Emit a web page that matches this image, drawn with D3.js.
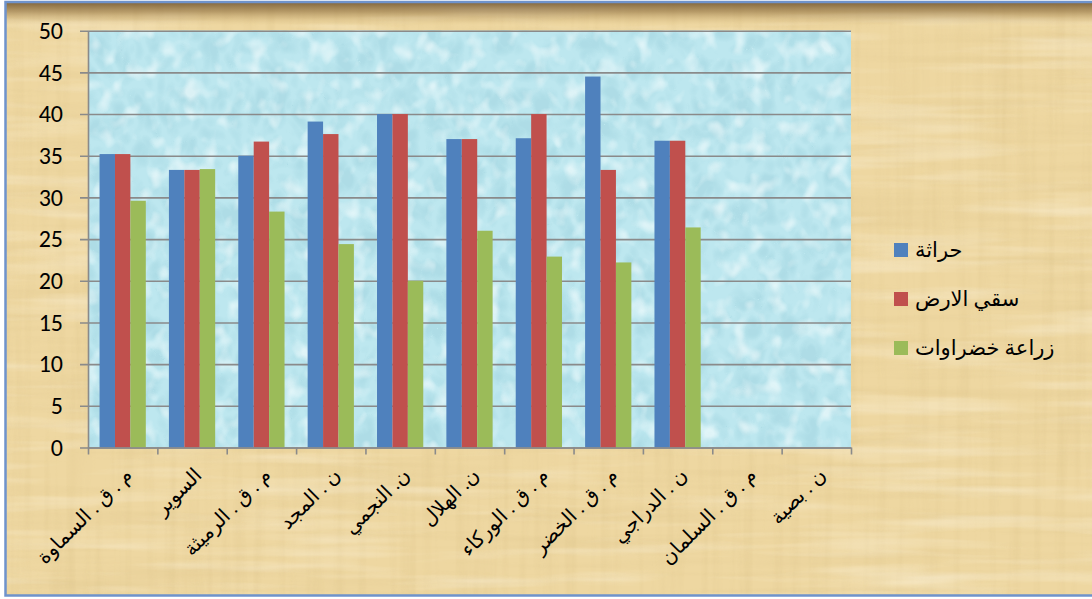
<!DOCTYPE html>
<html>
<head>
<meta charset="utf-8">
<script src="https://cdn.jsdelivr.net/npm/d3@7/dist/d3.min.js"></script>
<style>
  html, body { margin: 0; padding: 0; background: #ffffff; }
  svg { display: block; }
</style>
</head>
<body>
<svg id="chart" width="1092" height="599"></svg>
<script>
// Villages / districts along the x axis
const categories = [
  "م . ق . السماوة",
  "السوير",
  "م . ق . الرميثة",
  "ن . المجد",
  "ن. النجمي",
  "ن. الهلال",
  "م . ق . الوركاء",
  "م . ق . الخضر",
  "ن . الدراجي",
  "م . ق . السلمان",
  "ن . بصية"
];

// Series names (legend order)
const seriesNames = ["حراثة", "سقي الارض", "زراعة خضراوات"];

// Values per series, one per category (null = no data)
const tillage    = [35.2, 33.3, 35.0, 39.1, 40.0, 37.0, 37.1, 44.5, 36.8, null, null];
const irrigation = [35.2, 33.3, 36.7, 37.6, 40.0, 37.0, 40.0, 33.3, 36.8, null, null];
const vegetables = [29.6, 33.4, 28.3, 24.4, 20.0, 26.0, 22.9, 22.2, 26.4, null, null];

// Y axis ticks
const yTicks = [0, 5, 10, 15, 20, 25, 30, 35, 40, 45, 50];

const seriesValues = [tillage, irrigation, vegetables];
const colors = ["#4f81bd", "#c0504d", "#9bbb59"];

const svg = d3.select("#chart");
const W = 1092, H = 599;

const plot = { left: 88, right: 851, top: 30.7, bottom: 447.5 };

const defs = svg.append("defs");

// Papyrus fibres: horizontal and vertical streak noise
function fibreFilter(id, freq, seed, rgb, a, b) {
  const f = defs.append("filter").attr("id", id)
    .attr("x", 0).attr("y", 0).attr("width", 1).attr("height", 1)
    .attr("filterUnits", "objectBoundingBox");
  f.append("feTurbulence").attr("type", "fractalNoise")
    .attr("baseFrequency", freq).attr("numOctaves", 3).attr("seed", seed);
  f.append("feColorMatrix").attr("type", "matrix").attr("values",
    `0 0 0 0 ${rgb[0]}  0 0 0 0 ${rgb[1]}  0 0 0 0 ${rgb[2]}  ${a} 0 0 0 ${b}`);
}
fibreFilter("fibH", "0.004 0.09", 4, [0.66, 0.50, 0.22], 1.6, -0.72);
fibreFilter("fibV", "0.09 0.004", 9, [0.66, 0.50, 0.22], 1.6, -0.72);
fibreFilter("fibL", "0.005 0.07", 17, [1.0, 0.95, 0.82], 1.8, -0.85);

// Water drops texture for the plot area
const wf = defs.append("filter").attr("id", "water")
  .attr("x", 0).attr("y", 0).attr("width", 1).attr("height", 1);
wf.append("feTurbulence").attr("type", "turbulence")
  .attr("baseFrequency", "0.045 0.035").attr("numOctaves", 2).attr("seed", 5);
wf.append("feColorMatrix").attr("type", "matrix").attr("values",
  "0 0 0 0 0.36  0 0 0 0 0.66  0 0 0 0 0.74  2.4 0 0 0 -0.3");
const wf2 = defs.append("filter").attr("id", "waterHi")
  .attr("x", 0).attr("y", 0).attr("width", 1).attr("height", 1);
wf2.append("feTurbulence").attr("type", "fractalNoise")
  .attr("baseFrequency", "0.06 0.05").attr("numOctaves", 2).attr("seed", 11);
wf2.append("feColorMatrix").attr("type", "matrix").attr("values",
  "0 0 0 0 0.95  0 0 0 0 1  0 0 0 0 1  3 0 0 0 -1.5");

// Darker band along the top edge
const topGrad = defs.append("linearGradient").attr("id", "topBand")
  .attr("x1", 0).attr("y1", 0).attr("x2", 0).attr("y2", 1);
topGrad.append("stop").attr("offset", "0%").attr("stop-color", "#6b4f2a").attr("stop-opacity", 0.9);
topGrad.append("stop").attr("offset", "45%").attr("stop-color", "#8a6a3a").attr("stop-opacity", 0.55);
topGrad.append("stop").attr("offset", "100%").attr("stop-color", "#c9a86a").attr("stop-opacity", 0);

// Chart background
const bg = svg.append("g");
bg.append("rect").attr("x", 5).attr("y", 1).attr("width", W - 5).attr("height", 595)
  .attr("fill", "#eed7a1");
bg.append("rect").attr("x", 5).attr("y", 1).attr("width", W - 5).attr("height", 595)
  .attr("filter", "url(#fibH)").attr("opacity", 0.3);
bg.append("rect").attr("x", 5).attr("y", 1).attr("width", W - 5).attr("height", 595)
  .attr("filter", "url(#fibV)").attr("opacity", 0.3);
bg.append("rect").attr("x", 5).attr("y", 1).attr("width", W - 5).attr("height", 595)
  .attr("filter", "url(#fibL)").attr("opacity", 0.5);
bg.append("rect").attr("x", 5).attr("y", 1).attr("width", W - 5).attr("height", 24)
  .attr("fill", "url(#topBand)");
// Outer border
bg.append("path")
  .attr("d", `M${W + 2},2 H5.5 V595.5 H${W + 2}`)
  .attr("fill", "none").attr("stroke", "#6f93cc").attr("stroke-width", 2.5);

// Scales
const y = d3.scaleLinear().domain([0, 50]).range([plot.bottom, plot.top]);
const x0 = d3.scaleBand().domain(categories).range([plot.left, plot.right])
  .paddingInner(0).paddingOuter(0);
const x1 = d3.scaleBand().domain(d3.range(seriesNames.length))
  .range([0, x0.bandwidth()]).paddingInner(0).paddingOuter(0.75);
const xEdge = d3.scaleLinear().domain([0, categories.length]).range([plot.left, plot.right]);

// Plot area
const pa = svg.append("g");
pa.append("rect").attr("x", plot.left).attr("y", plot.top)
  .attr("width", plot.right - plot.left).attr("height", plot.bottom - plot.top)
  .attr("fill", "#bde7ef");
pa.append("rect").attr("x", plot.left).attr("y", plot.top)
  .attr("width", plot.right - plot.left).attr("height", plot.bottom - plot.top)
  .attr("filter", "url(#water)").attr("opacity", 0.55);
pa.append("rect").attr("x", plot.left).attr("y", plot.top)
  .attr("width", plot.right - plot.left).attr("height", plot.bottom - plot.top)
  .attr("filter", "url(#waterHi)").attr("opacity", 0.6);

// Gridlines (extend 8px left of the axis as outer tick marks)
svg.append("g")
  .attr("transform", `translate(${plot.right},0)`)
  .call(d3.axisLeft(y).tickValues(yTicks).tickSize(plot.right - plot.left + 8).tickFormat(""))
  .call(g => g.select(".domain").remove())
  .call(g => g.selectAll("line").attr("stroke", "#8a8a8a").attr("stroke-width", 1.6));

// Bars
const groups = svg.append("g").selectAll("g")
  .data(categories)
  .join("g")
  .attr("transform", d => `translate(${x0(d)},0)`);

groups.selectAll("rect")
  .data((d, i) => seriesValues.map((vals, s) => ({ s, v: vals[i] })).filter(e => e.v != null))
  .join("rect")
  .attr("x", e => x1(e.s))
  .attr("y", e => y(e.v))
  .attr("width", x1.bandwidth())
  .attr("height", e => y(0) - y(e.v))
  .attr("fill", e => colors[e.s]);

// Y axis line + labels
svg.append("g")
  .attr("transform", `translate(${plot.left},0)`)
  .call(d3.axisLeft(y).tickValues(yTicks).tickSize(0).tickPadding(25))
  .call(g => g.select(".domain").attr("stroke", "#8a8a8a").attr("stroke-width", 1.6))
  .call(g => g.selectAll("text")
    .attr("font-family", "Carlito, 'Liberation Sans', Arial, sans-serif")
    .attr("font-size", 24).attr("fill", "#000"));

// X axis line with tick marks at category boundaries
svg.append("g")
  .attr("transform", `translate(0,${plot.bottom})`)
  .call(d3.axisBottom(xEdge).tickValues(d3.range(0, categories.length + 1))
    .tickSize(7).tickSizeOuter(0).tickFormat(""))
  .call(g => g.select(".domain").attr("stroke", "#8a8a8a").attr("stroke-width", 1.6))
  .call(g => g.selectAll("line").attr("stroke", "#8a8a8a").attr("stroke-width", 1.6));

// Rotated category labels
svg.append("g").selectAll("text")
  .data(categories)
  .join("text")
  .attr("transform", d => `translate(${x0(d) + x0.bandwidth() / 2 + 1},${plot.bottom + 19}) rotate(-45)`)
  .attr("text-anchor", "end")
  .attr("dy", "0.7em")
  .attr("font-family", "'Times New Roman', 'Liberation Serif', 'DejaVu Sans', serif")
  .attr("font-size", 20)
  .attr("fill", "#000")
  .text(d => d);

// Legend
const legend = svg.append("g").selectAll("g")
  .data(seriesNames)
  .join("g")
  .attr("transform", (d, i) => `translate(894,${250 + i * 49})`);
legend.append("rect").attr("x", 0).attr("y", -7).attr("width", 14).attr("height", 14)
  .attr("fill", (d, i) => colors[i]);
legend.append("text").attr("x", 21).attr("dy", "0.35em")
  .attr("font-family", "'Times New Roman', 'Liberation Serif', 'DejaVu Sans', serif")
  .attr("font-size", 21).attr("fill", "#000")
  .text(d => d);
</script>
</body>
</html>
